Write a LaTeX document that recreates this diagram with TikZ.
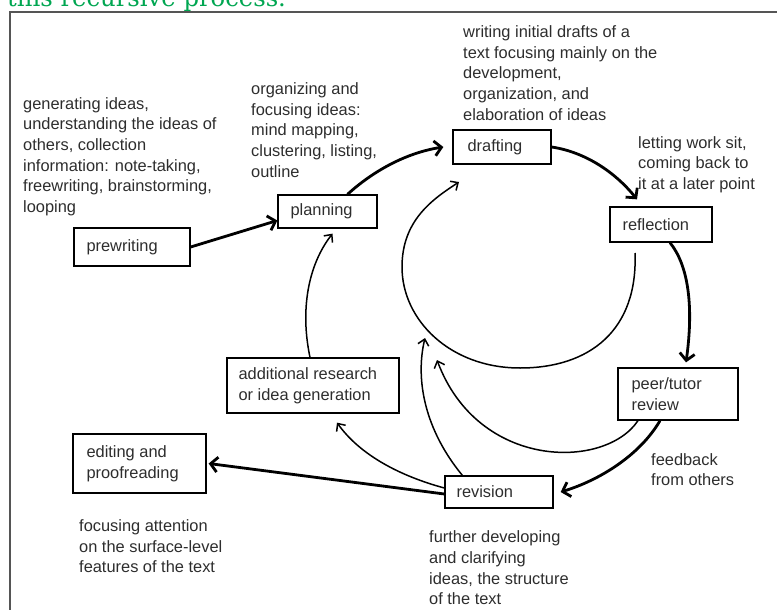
\documentclass[tikz,border=0pt]{standalone}
\usepackage{fontspec}
\setmainfont{Liberation Sans}
\newfontfamily\headfont{DejaVu Serif}
\usetikzlibrary{arrows.meta}
\definecolor{headgreen}{RGB}{0,166,81}
\definecolor{textgrey}{RGB}{45,45,45}
\definecolor{framegrey}{RGB}{85,85,85}
\begin{document}
\begin{tikzpicture}[x=1pt,y=-1pt,
    box/.style={anchor=center,draw,line width=1.3pt,inner sep=0pt},
    lbl/.style={anchor=west,inner sep=0pt,align=left,text=textgrey,font=\fontsize{16.4}{20.6}\selectfont},
    bigarrow/.style={line width=2.8pt,-{Straight Barb[length=7pt,width=15pt]}},
    smallarrow/.style={line width=1.5pt,-{Straight Barb[length=6pt,width=11pt]}}]
    \useasboundingbox (0,0) rectangle (777,610);
    %% heading and frame
    \node[anchor=base west,inner sep=0pt,text=headgreen,font=\headfont\fontsize{24.3}{26}\selectfont] (head) at (7,6.5) {this recursive process.};
    \draw[framegrey,line width=2pt] (10,12) rectangle (800,640);
    %% boxes
    \node[box,minimum width=116pt,minimum height=38pt] (pre) at (132,247) {};
    \node[lbl] (preT) at ([xshift=13pt]pre.west) {prewriting};
    \node[box,minimum width=99pt,minimum height=33pt] (plan) at (327.5,211.5) {};
    \node[lbl] (planT) at ([xshift=13pt]plan.west) {planning};
    \node[box,minimum width=98pt,minimum height=34pt] (draft) at (502,147) {};
    \node[lbl] (draftT) at ([xshift=15pt]draft.west) {drafting};
    \node[box,minimum width=102pt,minimum height=35pt] (refl) at (661,224.5) {};
    \node[lbl] (reflT) at ([xshift=13pt]refl.west) {reflection};
    \node[box,minimum width=120pt,minimum height=52pt] (peer) at (678,394) {};
    \node[lbl] (peerT) at ([xshift=14pt]peer.west) {peer/tutor\\review};
    \node[box,minimum width=108pt,minimum height=32pt] (rev) at (499,492) {};
    \node[lbl] (revT) at ([xshift=12pt]rev.west) {revision};
    \node[box,minimum width=172pt,minimum height=55pt] (add) at (313,385.5) {};
    \node[lbl] (addT) at ([xshift=12pt]add.west) {additional research\\or idea generation};
    \node[box,minimum width=133pt,minimum height=59pt] (edit) at (139.5,463.5) {};
    \node[lbl] (editT) at ([xshift=14pt]edit.west) {editing and\\proofreading};
    %% notes
    \node[lbl] (genN) at (23,156.5) {generating ideas,\\understanding the ideas of\\others, collection\\information: note-taking,\\freewriting, brainstorming,\\looping};
    \node[lbl] (orgN) at (251,130) {organizing and\\focusing ideas:\\mind mapping,\\clustering, listing,\\outline};
    \node[lbl] (writN) at (463,73) {writing initial drafts of a\\text focusing mainly on the\\development,\\organization, and\\elaboration of ideas};
    \node[lbl] (letN) at (638,164.5) {letting work sit,\\coming back to\\it at a later point};
    \node[lbl] (feedN) at (651,469.5) {feedback\\from others};
    \node[lbl] (furtherN) at (429,568) {further developing\\and clarifying\\ideas, the structure\\of the text};
    \node[lbl] (focusN) at (79,546.5) {focusing attention\\on the surface-level\\features of the text};
    %% free ends
    \coordinate (ringS) at (635,253);
    \coordinate (ringE) at (459,182);
    \coordinate (peerEnd) at (437,360);
    \coordinate (revUp) at (425,338);
    %% main cycle
    \draw[bigarrow] (pre.east) -- ([yshift=-9pt]plan.west);
    \draw[bigarrow] ([xshift=20pt]plan.north) .. controls (372,172) and (405,153) .. ([xshift=-9pt]draft.west);
    \draw[bigarrow] (draft.east) .. controls (585,152) and (615,172) .. ([xshift=-24pt,yshift=7pt]refl.north);
    \draw[bigarrow] ([xshift=9pt]refl.south) .. controls (688,265) and (694,305) .. ([xshift=8pt,yshift=5pt]peer.north);
    \draw[bigarrow] ([xshift=-18pt]peer.south) .. controls (640,455) and (600,480) .. ([xshift=7pt]rev.east);
    \draw[bigarrow] ([yshift=-2pt]rev.west) -- ([xshift=2pt]edit.east);
    %% loops back
    \draw[smallarrow] (ringS) .. controls (638,330) and (590,368) .. (520,368) .. controls (450,368) and (402,320) .. (402,267) .. controls (402,220) and (433,199) .. (ringE);
    \draw[smallarrow] ([xshift=-40pt]peer.south) .. controls (605,470) and (478,470) .. (peerEnd);
    \draw[smallarrow] ([xshift=18pt]rev.north west) .. controls (425,430) and (415,380) .. (revUp);
    \draw[smallarrow] ([yshift=4pt]rev.west) .. controls (400,476) and (360,455) .. ([xshift=24pt,yshift=-9pt]add.south);
    \draw[smallarrow] ([xshift=-3pt]add.north) .. controls (300,310) and (308,265) .. ([xshift=5pt,yshift=-5pt]plan.south);
\end{tikzpicture}
\end{document}
